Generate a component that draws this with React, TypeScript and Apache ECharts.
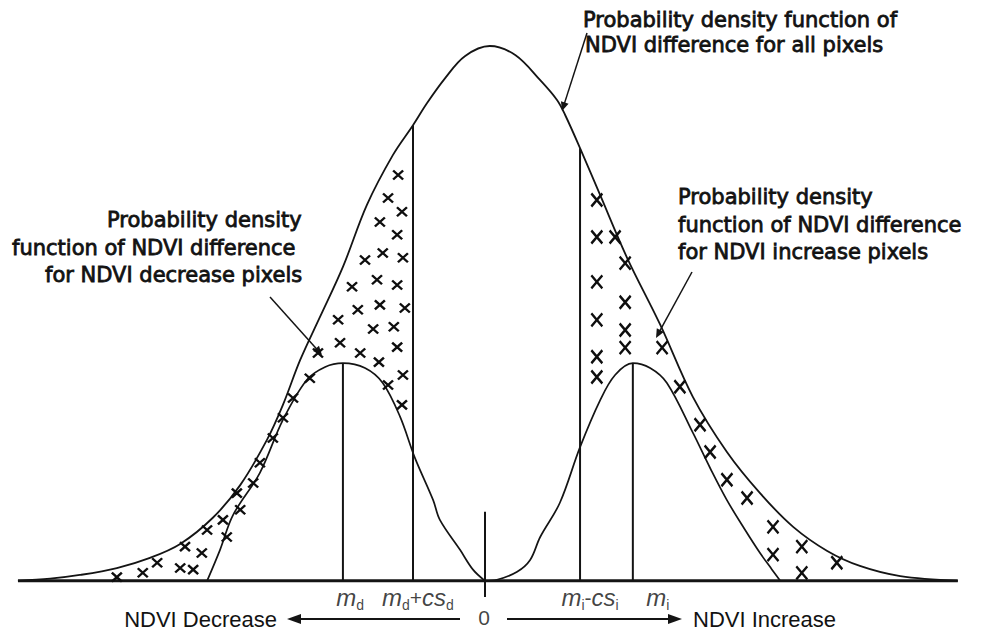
import React, { useEffect, useRef } from "react";
import * as echarts from "echarts";

// ---- Data (x: NDVI difference, scaled; y: relative density) ----
const ALL_X = [-0.973, -0.906, -0.844, -0.767, -0.698, -0.635, -0.567, -0.51, -0.454, -0.421, -0.385, -0.344, -0.296, -0.246, -0.192, -0.15, -0.121, -0.083, -0.042, 0.01, 0.063, 0.115, 0.15, 0.167, 0.198, 0.24, 0.296, 0.365, 0.433, 0.504, 0.573, 0.642, 0.713, 0.781, 0.865, 0.985];
const ALL_Y = [0, 0.004, 0.011, 0.024, 0.043, 0.069, 0.118, 0.179, 0.264, 0.329, 0.413, 0.493, 0.587, 0.703, 0.796, 0.852, 0.893, 0.94, 0.981, 1.0, 0.983, 0.936, 0.899, 0.871, 0.809, 0.721, 0.604, 0.479, 0.344, 0.241, 0.164, 0.101, 0.056, 0.028, 0.009, 0];

const DEC_X = [-0.579, -0.552, -0.525, -0.469, -0.421, -0.371, -0.333, -0.296, -0.25, -0.213, -0.177, -0.146, -0.108, -0.094, -0.052, -0.025, 0];
const DEC_Y = [0, 0.058, 0.123, 0.202, 0.301, 0.376, 0.4, 0.407, 0.398, 0.37, 0.307, 0.23, 0.151, 0.114, 0.058, 0.021, 0];

const INC_X = [0, 0.025, 0.067, 0.094, 0.115, 0.156, 0.198, 0.24, 0.271, 0.308, 0.344, 0.379, 0.433, 0.469, 0.504, 0.542, 0.573, 0.598, 0.615];
const INC_Y = [0, 0.002, 0.017, 0.039, 0.082, 0.146, 0.25, 0.338, 0.385, 0.407, 0.398, 0.37, 0.277, 0.211, 0.151, 0.095, 0.052, 0.021, 0];

// vertical reference lines: m_d, m_d+cs_d, m_i-cs_i, m_i
const MARK_X = [-0.296, -0.15, 0.198, 0.308];
const MARK_TOP = [0.407, 0.852, 0.809, 0.407];
const ZERO_TICK = [-0.03, 0.129];
const BASELINE_X = [-0.973, 0.985];

// tick labels
const TICK_LABELS = ["m_d", "m_d+cs_d", "0", "m_i-cs_i", "m_i"];
const TICK_X = [-0.281, -0.14, -0.002, 0.219, 0.36];
const TICK_Y = [-0.032, -0.032, -0.069, -0.032, -0.032];

// cross marks (decrease side)
const DEC_CROSS_X = [-0.767, -0.713, -0.683, -0.635, -0.608, -0.625, -0.59, -0.579, -0.538, -0.546, -0.51, -0.517, -0.483, -0.469, -0.442, -0.421, -0.4, -0.365, -0.348,
  -0.181, -0.202, -0.173, -0.219, -0.183, -0.25, -0.213, -0.171, -0.277, -0.225, -0.183, -0.265, -0.219, -0.167, -0.306, -0.233, -0.19, -0.302, -0.26, -0.183, -0.221, -0.171, -0.202, -0.173];
const DEC_CROSS_Y = [0.007, 0.015, 0.034, 0.024, 0.021, 0.064, 0.052, 0.095, 0.082, 0.114, 0.133, 0.164, 0.183, 0.221, 0.267, 0.305, 0.342, 0.379, 0.426,
  0.759, 0.716, 0.69, 0.671, 0.647, 0.6, 0.613, 0.604, 0.55, 0.563, 0.553, 0.507, 0.516, 0.51, 0.488, 0.471, 0.475, 0.445, 0.426, 0.437, 0.409, 0.385, 0.366, 0.329];

// cross marks (increase side)
const INC_CROSS_X = [0.233, 0.233, 0.271, 0.292, 0.233, 0.292, 0.233, 0.292, 0.233, 0.292, 0.233, 0.369, 0.406, 0.448, 0.469, 0.504, 0.546, 0.6, 0.6, 0.66, 0.66, 0.733];
const INC_CROSS_Y = [0.712, 0.643, 0.643, 0.594, 0.559, 0.521, 0.488, 0.469, 0.419, 0.436, 0.381, 0.436, 0.363, 0.292, 0.241, 0.189, 0.155, 0.101, 0.049, 0.064, 0.015, 0.034];

const zip = (xs: number[], ys: number[]) => xs.map((x, i) => [x, ys[i]]);

const INK = "#141414";
const TEXT_FONT = "DejaVu Sans";

function toRich(t: string): string {
  let out = "";
  for (let k = 0; k < t.length; k++) {
    const ch = t[k];
    if (ch === "_") {
      out += `{s|${t[++k]}}`;
    } else if (/[a-z]/.test(ch)) {
      out += `{i|${ch}}`;
    } else {
      out += `{n|${ch}}`;
    }
  }
  return out;
}

function arrow(x1: number, y1: number, x2: number, y2: number, len: number, half: number, w: number) {
  const dx = x2 - x1;
  const dy = y2 - y1;
  const L = Math.hypot(dx, dy);
  const ux = dx / L;
  const uy = dy / L;
  const bx = x2 - ux * len;
  const by = y2 - uy * len;
  return [
    { type: "line", silent: true, shape: { x1, y1, x2: bx + ux, y2: by + uy }, style: { stroke: INK, lineWidth: w } },
    {
      type: "polygon",
      silent: true,
      shape: { points: [[x2, y2], [bx - uy * half, by + ux * half], [bx + uy * half, by - ux * half]] },
      style: { fill: INK },
    },
  ];
}

function txt(text: string, x: number, y: number, align: string, size: number, family: string, thick: number) {
  return {
    type: "text",
    silent: true,
    x,
    y,
    style: {
      text,
      fontSize: size,
      fontFamily: family,
      fill: "#121212",
      stroke: thick > 0 ? "#121212" : undefined,
      lineWidth: thick,
      align,
      verticalAlign: "middle",
    },
  };
}

const lineSeries = (data: number[][], w: number, smooth: number | boolean) => ({
  type: "line",
  data,
  smooth,
  symbol: "none",
  silent: true,
  clip: false,
  lineStyle: { color: INK, width: w },
  z: 3,
});

export default function App() {
  const ref = useRef<HTMLDivElement>(null);

  useEffect(() => {
    if (!ref.current) return;
    const chart = echarts.init(ref.current, null, { renderer: "svg" });

    const markSeries = MARK_X.map((x, i) => lineSeries([[x, 0], [x, MARK_TOP[i]]], 2, false));

    const option: any = {
      animation: false,
      backgroundColor: "#ffffff",
      grid: { left: 5, right: 19, top: 46, bottom: 5 },
      xAxis: { type: "value", min: -1, max: 1, show: false },
      yAxis: { type: "value", min: -0.09, max: 1, show: false },
      series: [
        lineSeries(zip(ALL_X, ALL_Y), 1.8, 0.35),
        lineSeries(zip(DEC_X, DEC_Y), 1.7, 0.35),
        lineSeries(zip(INC_X, INC_Y), 1.7, 0.35),
        lineSeries(BASELINE_X.map((x) => [x, 0]), 3, false),
        lineSeries(ZERO_TICK.map((y) => [0, y]), 2, false),
        ...markSeries,
        {
          type: "scatter",
          data: zip(DEC_CROSS_X, DEC_CROSS_Y),
          symbol: "path://M0,0L10,9M10,0L0,9",
          symbolSize: [10, 9],
          silent: true,
          itemStyle: { color: "rgba(0,0,0,0)", borderColor: "#0e0e0e", borderWidth: 2.3, opacity: 1 },
          z: 4,
        },
        {
          type: "scatter",
          data: zip(INC_CROSS_X, INC_CROSS_Y),
          symbol: "path://M0,0L10,12M10,0L0,12",
          symbolSize: [11, 13],
          silent: true,
          itemStyle: { color: "rgba(0,0,0,0)", borderColor: "#0e0e0e", borderWidth: 2.5, opacity: 1 },
          z: 4,
        },
        {
          type: "scatter",
          data: TICK_LABELS.map((name, i) => ({ name, value: [TICK_X[i], TICK_Y[i]] })),
          symbol: "circle",
          symbolSize: 1,
          silent: true,
          itemStyle: { color: "rgba(0,0,0,0)" },
          label: {
            show: true,
            position: "inside",
            formatter: (p: any) => toRich(p.name),
            rich: {
              i: { fontFamily: "Liberation Sans", fontStyle: "italic", fontSize: 24, lineHeight: 28, color: "#111" },
              s: { fontFamily: "Liberation Sans", fontSize: 14, lineHeight: 14, verticalAlign: "bottom", color: "#111" },
              n: { fontFamily: "Liberation Sans", fontSize: 21, lineHeight: 28, color: "#111" },
            },
          },
          z: 5,
        },
      ],
      graphic: [
        // top annotation
        txt("Probability density function of", 583, 20, "left", 21, TEXT_FONT, 0.8),
        txt("NDVI difference for all pixels", 585, 45, "left", 21, TEXT_FONT, 0.8),
        ...arrow(587, 33, 562, 111, 9, 4, 1.5),
        // increase annotation
        txt("Probability density", 678, 197, "left", 21, TEXT_FONT, 0.8),
        txt("function of NDVI difference", 678, 225, "left", 21, TEXT_FONT, 0.8),
        txt("for NDVI increase pixels", 678, 252, "left", 21, TEXT_FONT, 0.8),
        ...arrow(692, 272, 656, 338, 9, 4, 1.5),
        // decrease annotation
        txt("Probability density", 107, 220, "left", 21, TEXT_FONT, 0.8),
        txt("function of NDVI difference", 12, 248, "left", 21, TEXT_FONT, 0.8),
        txt("for NDVI decrease pixels", 45, 275, "left", 21, TEXT_FONT, 0.8),
        ...arrow(270, 297, 322, 355, 9, 4, 1.5),
        // bottom direction arrows
        txt("NDVI Decrease", 277, 619, "right", 22, "Liberation Sans", 0),
        ...arrow(460, 619, 287, 619, 14, 5, 2),
        ...arrow(507, 619, 682, 619, 14, 5, 2),
        txt("NDVI Increase", 693, 619, "left", 22, "Liberation Sans", 0),
      ],
    };

    chart.setOption(option);
    return () => chart.dispose();
  }, []);

  return (
    <div
      ref={ref}
      style={{ position: "fixed", left: 0, top: 0, width: 984, height: 634, background: "#fff" }}
    />
  );
}
